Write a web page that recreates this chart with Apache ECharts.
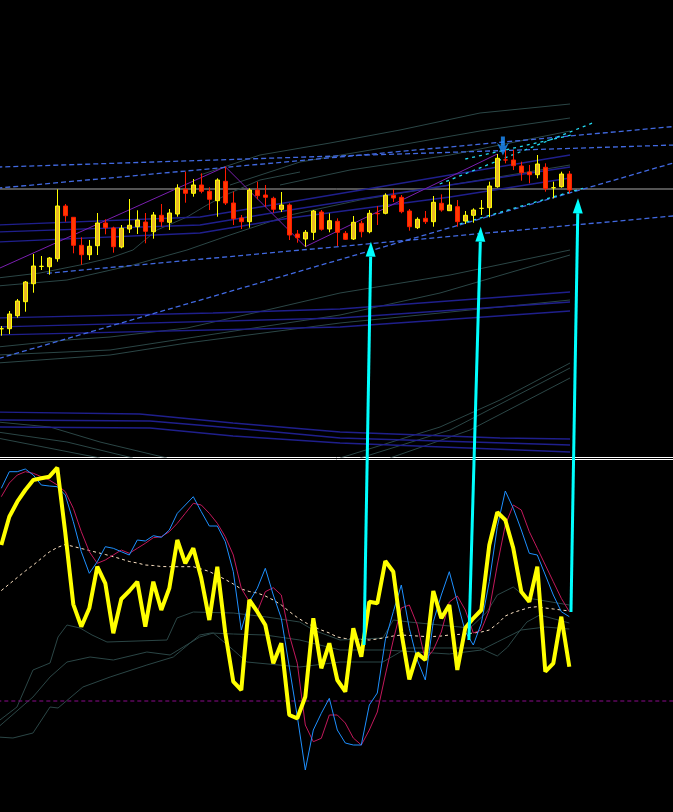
<!DOCTYPE html>
<html><head><meta charset="utf-8">
<script src="https://cdn.jsdelivr.net/npm/echarts@6/dist/echarts.min.js"></script>
<style>html,body{margin:0;padding:0;background:#000;overflow:hidden}#c{width:673px;height:812px}</style>
</head><body><div id="c"></div>
<script>
// ---- categories (bar slots, incl. empty right margin) ----
const categories = Array.from({length: 85}, (_, i) => 'Bar ' + (i + 1));

// ---- price candles: [open, close, low, high] ----
const candles = [
[171.2,171.3,164.3,174],[171.3,186,166,189],[184.3,199,182.3,201],[198.3,218,188.3,219],[216.3,234,207.3,246],
[233.6,233.7,230,244],[233.3,242,225.3,243],[241.3,294,238.3,310.7],[294,284.3,278.3,296],[282.7,254.7,246.7,283],
[254.7,245.3,235.3,262.7],[245.3,253.7,240,260],[254.3,277,245,287],[277,272.3,265.7,280.7],[272,253.3,247.3,273.3],
[253,271.7,251.7,275],[271,274.7,267,301],[273.3,280,266,289.7],[278,268.7,256.7,287],[268.3,285,261.3,288],
[284.7,278.3,273.3,296],[277.7,287,270,291],[286,312,283.3,315.7],[310.7,306.7,297.3,328.3],[306.7,315,303.3,321],
[315,308.7,306.7,326.7],[308.7,300.7,290,312.7],[299.3,320,283.3,321.7],[318.7,297,295,333.3],[297,281.3,275,308.3],
[282,278.3,271,285],[278.3,310,272.3,311.7],[310,304.3,300.7,318.3],[305,302.7,293.3,315],[301.7,290.7,287.3,303.3],
[290.7,295,288,308],[295,265,260,296.7],[266,262.3,257.3,270],[261,267.7,253.3,270],[267.7,289,260,290],
[288,270.7,269.3,290],[271,279.3,267.7,286.7],[278.7,267.7,254,281.7],[266.7,260.7,260,269],[261,277.7,260,284],
[276.7,268.3,262.7,279.3],[268.3,286.7,266.7,290],[286.4,286.3,275,294],[286.7,304.7,285.7,306.7],[304.7,302,298,310.7],
[302.7,288.3,286.7,305],[289,273.3,269.3,291],[272.3,280.7,271,282.7],[281.7,278.3,276,289],[278.3,297.7,273.3,304],
[296.7,290,288.3,305.7],[289.3,295,289.3,318.3],[293.3,278.3,273.3,300],[279,284.7,276,289],[284.7,290,277.3,291.7],
[291.6,291.7,285,300],[292.3,314,282.7,318.3],[313.3,341.7,312.3,346],[340.1,340,336.7,350.7],[340,334.3,330,350],
[334,327.3,319.3,338.3],[328,325.3,316.7,335],[325.3,336,321.7,345],[332.7,311.3,308.3,336.7],[312.2,312.3,301.7,318.3],
[313.3,326,312.3,328.3],[326,310,306.7,329]
];
const levelPrice = 311;

// ---- price overlays: [barIndex, price] ----
const zigzag = [[-0.5,230.8],[28,333.3],[38,253.3],[62,346]];
const chanUpper1 = [[-0.5,332.9],[84.5,355.1]];
const chanUpper2 = [[-0.5,311.8],[84.5,373.8]];
const chanLower1 = [[-0.3,141.6],[84.5,338.2]];
const chanLower2 = [[5.7,226.7],[84.5,284.4]];
const trendCyan1 = [[54.8,316],[74,377.3]];
const trendCyan2 = [[58,341],[71.3,365]];
const trendCyan3 = [[57.3,276],[72.7,311.7]];
const navyA1 = [[-0.5,275],[24.84,283],[36.09,298],[56.09,325],[71.09,345]];
const navyA2 = [[-0.5,268],[24.84,275],[36.09,290],[56.09,315],[71.09,333]];
const navyA3 = [[-0.5,258],[24.84,267],[36.09,282],[56.09,303],[71.09,322]];
const navyB1 = [[-0.5,182],[26.46,187],[42.34,191],[71.09,208]];
const navyB2 = [[-0.5,173],[42.34,182],[71.09,198]];
const navyB3 = [[-0.5,165],[42.34,173],[71.09,189]];
const navyC1 = [[-0.5,88],[17.3,86],[28.96,77],[42.34,68],[62.34,62],[71.09,61]];
const navyC2 = [[-0.5,80],[18.59,79],[28.96,72],[42.34,62],[71.09,55]];
const navyC3 = [[-0.5,73],[18.59,72],[28.96,64],[42.34,57],[71.09,48]];
const slateU1 = [[24.84,325],[32.34,345],[41.09,357],[49.84,370],[59.84,387],[71.09,396]];
const slateU2 = [[28.59,315],[37.34,338],[49.84,355],[59.84,369],[71.09,382]];
const slateU3 = [[34.84,315],[43.59,330],[56.09,345],[71.09,369]];
const slateM1 = [[-0.5,222],[4.84,227],[9.84,235],[13.59,242],[16.46,250],[19.46,270],[23.21,283],[25.71,295],[28.59,307],[32.34,320],[37.34,328]];
const slateM2 = [[-0.5,214],[8.21,220],[16.46,235],[23.21,250],[28.59,265],[36.09,285],[44.84,300],[56.09,315],[71.09,335]];
const slateL1 = [[-0.5,153],[8.21,160],[13.59,163],[23.21,172],[33.21,190],[42.34,207],[56.09,225],[71.09,250]];
const slateL2 = [[-0.5,145],[13.59,150],[33.21,174],[42.34,185],[54.84,207],[71.09,245]];
const slateL3 = [[-0.5,137],[13.59,145],[23.21,157],[42.34,177],[71.09,200]];
const slateB1 = [[-0.5,78],[6.09,73],[12.34,58],[20.71,42]];
const slateB2 = [[-0.5,68],[8.21,58],[16.46,42]];
const slateB3 = [[-0.5,62],[12.34,42]];
const slateR1 = [[42.34,42],[54.84,73],[62.34,100],[71.09,137]];
const slateR2 = [[44.84,42],[56.09,70],[71.09,132]];
const slateR3 = [[48.59,42],[58.59,70],[71.09,122]];
const signalArrow = [[62.7,354]];

// ---- oscillator panel ----
const oscMain = [267,295.3,310.3,322,332,333.7,335.3,344.3,279,207.7,185.3,203.7,245.3,228.7,178.7,213,221,230.3,185.3,230.3,202,223.7,272,248.7,263.7,233.7,192,245.3,179,130.3,122,212,200.3,187,148.7,168.7,97,93.7,115.3,193.7,143.7,168.7,132,120.3,183.7,155.3,210.3,208.7,251,240.3,180,132.7,158.7,152,221,193.7,207,142,184,193.7,202,267,299.7,292,263.7,220.3,210.3,245.3,140.3,148.7,195.3,145.3];
const oscFast = [323.7,340.3,340.3,343,337,327,326,325.3,317,290.3,260.3,238.7,250.3,265.3,263.7,260.3,257,272,271,276.3,274.7,282,298.7,307,315.3,300.3,286,286,270.3,240.3,182,210.3,223.7,243.7,217,193.7,145,95.5,42,82,98.7,113.7,82,69,67,67,107,119,172,200.3,227,183.7,152,132,190.3,217,240.3,210.3,180.3,167,188.7,230.3,285.3,321,303.7,282,258.7,257,237,217,200.3,195.3];
const oscSlow = [315.3,329,337,340.3,338.7,335.3,332,327,320.3,303.7,280.3,260.3,248.7,252,257,262,258.7,263.7,268.7,274.3,275.3,280.3,288.7,298.7,308.7,307,298.7,288.7,275.3,257,223.7,210.3,200.3,220.3,224.3,217,177,148.7,87,70.3,73.7,97,97,89,74,67,82,100,137,172,204,207,187,152,162,180,210,216,202,179,182,202,247,287,307,302,280.3,263.7,247,230.3,213.7,200.3];
const oscSignal = [221.4,228,234.5,241,247,253.5,260,264.5,267.5,265.5,263.5,261.5,259.5,257.5,255.3,253,250.5,249,247,246.5,245.5,245.3,245.3,245.3,245.3,243,240.5,236.5,232.5,228,223,220.5,219,216,212,207,200.5,194.5,189.5,185.5,182,179,175,173.5,173,172.5,172,173,174.5,176,177,176.5,176,175.5,175.5,176,177,177.5,178,179,180,182,188,196,199.5,202,204.5,205.3,204,203,202,201];
const oscLevel = 111;
const bandTop = [[-0.5,90],[1.96,105],[3.96,142],[6.09,149],[7.09,175],[8.21,187],[9.84,184],[11.34,177],[13.21,170],[20.71,172],[21.96,194],[24,200],[29,199],[33.2,195],[37.3,190],[39,182],[42.34,172],[47.7,174],[49,192],[51,190],[58.6,184],[60.7,200],[62,217],[64,225],[65.7,214],[67.3,212],[71,207]];
const bandMid = [[-0.5,84],[3.96,115],[6.09,135],[8.21,150],[11.09,155],[14,152],[18.2,160],[21.1,157],[24.8,175],[26.5,179],[29,162],[30.7,150],[37.3,145],[42.34,150],[47.7,150],[50.7,164],[59.8,164],[62,156],[63.3,165],[64.5,178],[65.7,190],[67.3,197],[71,189]];
const bandLow = [[-0.5,75],[1.46,74],[3.96,79],[6.09,105],[7.09,104],[10.2,125],[13.6,135],[18.2,147],[21.5,155],[24.8,177],[26.2,179],[29,178],[33,177],[37.3,172],[42.34,162],[48,162],[52,160],[56,158],[60,162],[62,170],[65,182],[68,185],[71,183]];

// ---- arrows: from oscillator point [bar, osc] to price point [bar, price] ----
const linkArrows = [
  {from:[45.34,167], to:[46.2,258.3]},
  {from:[58.45,172], to:[59.93,273.3]},
  {from:[71.21,200], to:[72.09,301.7]}
];

const chart = echarts.init(document.getElementById('c'), null, {renderer:'canvas'});

function ln(data, color, width, type, xi, yi, z) {
  return {type:'line', data, xAxisIndex:xi, yAxisIndex:yi, symbol:'none', silent:true,
    lineStyle:{color, width, type: type || 'solid'}, z: z || 2, animation:false};
}
const P = (d,c,w,t,z) => ln(d,c,w,t,1,0,z);
const NAVY = '#1f1f8c', SLATE = '#2b4646', RB = '#4169e1', CY = '#22d8f0';

const series = [
  P([[-0.5,levelPrice],[84.5,levelPrice]], '#a8a8a8', 1),
  P(slateU1,SLATE,1),P(slateU2,SLATE,1),P(slateU3,SLATE,1),P(slateM1,SLATE,1),P(slateM2,SLATE,1),
  P(slateL1,SLATE,1),P(slateL2,SLATE,1),P(slateL3,SLATE,1),P(slateB1,SLATE,1),P(slateB2,SLATE,1),P(slateB3,SLATE,1),
  P(slateR1,SLATE,1),P(slateR2,SLATE,1),P(slateR3,SLATE,1),
  P(navyA1,NAVY,1.3),P(navyA2,NAVY,1.3),P(navyA3,NAVY,1.3),P(navyB1,NAVY,1.3),P(navyB2,NAVY,1.3),P(navyB3,NAVY,1.3),
  P(navyC1,NAVY,1.3),P(navyC2,NAVY,1.3),P(navyC3,NAVY,1.3),
  P(zigzag,'#7a1fb0',1),
  P(chanUpper1,RB,1.3,[5,3]),P(chanUpper2,RB,1.3,[5,3]),P(chanLower1,RB,1.3,[5,3]),P(chanLower2,RB,1.3,[5,3]),
  P(trendCyan1,CY,1.3,[3,4]),P(trendCyan2,CY,1.3,[3,4]),P(trendCyan3,CY,1.3,[3,4]),
  {type:'candlestick', xAxisIndex:0, yAxisIndex:0, data:candles, barWidth:5, silent:true, animation:false, z:5,
   itemStyle:{color:'#e8b828', color0:'#ff3a00', borderColor:'#ffff00', borderColor0:'#ff1a00', borderWidth:1}},
  {type:'scatter', xAxisIndex:1, yAxisIndex:0, data:signalArrow, silent:true, animation:false, z:6,
   symbol:'path://M4,0 L8,0 L8,9 L12,6 L6,18 L0,6 L4,9 Z', symbolSize:[12,19],
   itemStyle:{color:'#1e90ff'}},
  // oscillator
  ln(bandTop,SLATE,1,'solid',3,1), ln(bandMid,SLATE,1,'solid',3,1), ln(bandLow,SLATE,1,'solid',3,1),
  ln([[-0.5,oscLevel],[84.5,oscLevel]],'#8b0a8b',1,[4,3],3,1),
  ln(oscSignal,'#ffe4c4',1,[3,3],2,1,3),
  ln(oscSlow,'#c2185b',1,'solid',2,1,3),
  ln(oscFast,'#1e90ff',1,'solid',2,1,3),
  ln(oscMain,'#ffff00',4,'solid',2,1,4)
];

chart.setOption({
  backgroundColor:'#000',
  animation:false,
  grid:[
    {left:-2.7, width:680, top:0, height:457, outerBoundsMode:'none', containLabel:false},
    {left:-2.7, width:680, top:459, height:353, outerBoundsMode:'none', containLabel:false}
  ],
  xAxis:[
    {type:'category', gridIndex:0, data:categories, position:'bottom', axisLine:{show:true, onZero:false, lineStyle:{color:'#ffffff', width:1}}, axisTick:{show:false}, axisLabel:{show:false}, splitLine:{show:false}},
    {type:'value', gridIndex:0, min:-0.5, max:84.5, show:false},
    {type:'category', gridIndex:1, data:categories, position:'top', axisLine:{show:true, onZero:false, lineStyle:{color:'#ffffff', width:1}}, axisTick:{show:false}, axisLabel:{show:false}, splitLine:{show:false}},
    {type:'value', gridIndex:1, min:-0.5, max:84.5, show:false}
  ],
  yAxis:[
    {type:'value', gridIndex:0, min:43, max:500, show:false, splitLine:{show:false}},
    {type:'value', gridIndex:1, min:0, max:353, show:false, splitLine:{show:false}}
  ],
  series
});

// cyan link arrows, positioned through the axes
const g = [];
linkArrows.forEach(a => {
  const p0 = chart.convertToPixel({xAxisIndex:3, yAxisIndex:1}, a.from);
  const p1 = chart.convertToPixel({xAxisIndex:1, yAxisIndex:0}, a.to);
  const dx = p1[0]-p0[0], dy = p1[1]-p0[1], L = Math.hypot(dx,dy);
  const ux = dx/L, uy = dy/L, hl = 15, hw = 5;
  const bx = p1[0]-ux*hl, by = p1[1]-uy*hl;
  g.push({type:'line', z:100, shape:{x1:p0[0], y1:p0[1], x2:bx, y2:by}, style:{stroke:'#00ffff', lineWidth:3}});
  g.push({type:'polygon', z:100, shape:{points:[[p1[0],p1[1]],[bx-uy*hw, by+ux*hw],[bx+uy*hw, by-ux*hw]]}, style:{fill:'#00ffff'}});
});
chart.setOption({graphic:g});
</script>
</body></html>
